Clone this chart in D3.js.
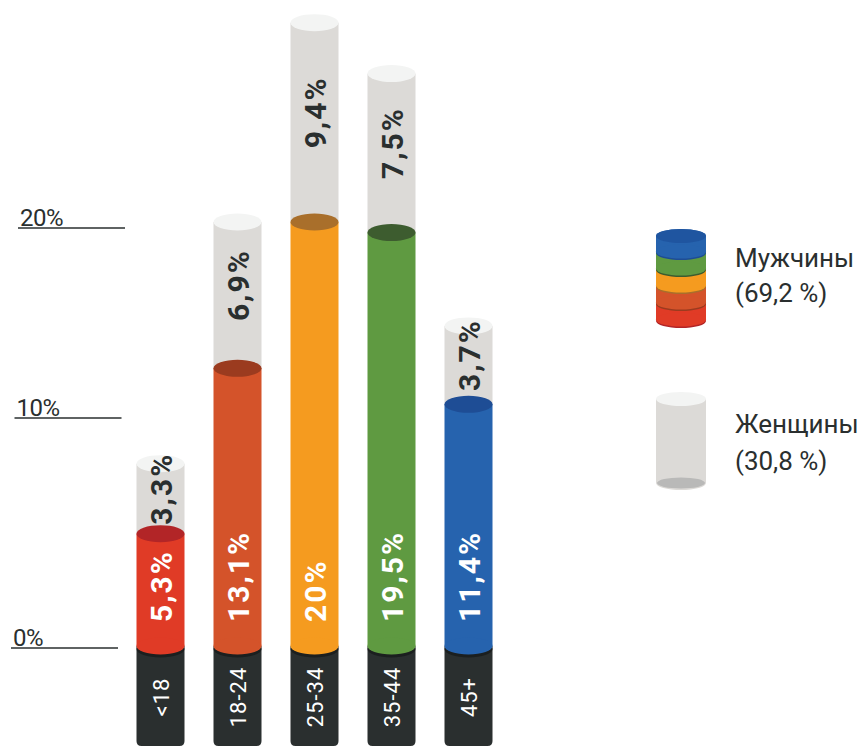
<!DOCTYPE html>
<html><head><meta charset="utf-8">
<script src="https://cdn.jsdelivr.net/npm/d3@7"></script>
<style>
html,body{margin:0;padding:0;background:#fff;}
svg{display:block;font-family:Roboto,"Noto Sans",sans-serif;}
</style></head>
<body>
<svg id="c" width="864" height="747"></svg>
<script>
const categories = ["<18","18-24","25-34","35-44","45+"];
const menValues = [5.3, 13.1, 20, 19.5, 11.4];
const womenValues = [3.3, 6.9, 9.4, 7.5, 3.7];
const tickValues = [0, 10, 20];
const tickLabels = ["0%","10%","20%"];
const menColors = ["#e03b26","#d4532a","#f59b1f","#5f9a41","#2663ae"];
const menTopColors = ["#b22527","#9b3b1f","#a96f2b","#3d5c2f","#1e4d95"];
const legendLabels = [["Мужчины","(69,2 %)"],["Женщины","(30,8 %)"]];

const svg = d3.select("#c");
const y = d3.scaleLinear().domain([0,20]).range([646,222]);
const x = d3.scaleBand().domain(categories).range([122,507]).paddingInner(0.38).paddingOuter(0.19);
const bw = 48, ry = 8.5;
const dark = "#2a2f2f", grayBody = "#dcdad7", grayTop = "#f3f4f3";
const fmt = v => String(v).replace(".", ",") + "%";

// ticks
const tickLeft = d3.scaleLinear().domain([0,20]).range([11,18]);
tickValues.forEach((t,i)=>{
  const yy = y(t) + (t===0?2:(t===10?-16:6));
  svg.append("line").attr("x1",tickLeft(t)).attr("x2",tickLeft(t)+107)
    .attr("y1",yy).attr("y2",yy).attr("stroke",dark).attr("stroke-width",1.6);
  svg.append("text").attr("x",tickLeft(t)+2).attr("y",yy-2.5)
    .attr("font-size",24).attr("letter-spacing",-0.5).attr("fill",dark).text(tickLabels[i]);
});

categories.forEach((c,i)=>{
  const cx = x(c) + x.bandwidth()/2;
  const x0 = cx - bw/2;
  const y0 = y(0), ym = y(menValues[i]), yw = y(menValues[i]+womenValues[i]);
  const g = svg.append("g");
  // dark base
  g.append("path").attr("d", `M${x0},${y0} H${x0+bw} V${741} Q${x0+bw},${746} ${x0+bw-5},${746} H${x0+5} Q${x0},${746} ${x0},${741} Z`).attr("fill",dark);
  // gray (women) body
  g.append("rect").attr("x",x0).attr("y",yw).attr("width",bw).attr("height",ym-yw).attr("fill",grayBody);
  g.append("ellipse").attr("cx",cx).attr("cy",yw).attr("rx",bw/2).attr("ry",ry).attr("fill",grayTop);
  // men shadow on base
  g.append("ellipse").attr("cx",cx).attr("cy",y0+3).attr("rx",bw/2).attr("ry",ry).attr("fill","#1b1f1f");
  // men body
  g.append("rect").attr("x",x0).attr("y",ym).attr("width",bw).attr("height",y0-ym).attr("fill",menColors[i]);
  g.append("ellipse").attr("cx",cx).attr("cy",y0).attr("rx",bw/2).attr("ry",ry).attr("fill",menColors[i]);
  g.append("ellipse").attr("cx",cx).attr("cy",ym).attr("rx",bw/2).attr("ry",ry).attr("fill",menTopColors[i]);
  // labels
  g.append("text").attr("transform",`translate(${cx+11},${y0-24}) rotate(-90)`)
    .attr("font-size",30).attr("font-weight",700).attr("letter-spacing",2)
    .attr("fill","#fff").text(fmt(menValues[i]));
  g.append("text").attr("transform",`translate(${cx+11},${(ym+yw)/2-10}) rotate(-90)`)
    .attr("text-anchor","middle")
    .attr("font-size",30).attr("font-weight",700).attr("letter-spacing",2)
    .attr("fill",dark).text(fmt(womenValues[i]));
  g.append("text").attr("transform",`translate(${cx+8},${697}) rotate(-90)`)
    .attr("text-anchor","middle")
    .attr("font-size",22).attr("letter-spacing",1)
    .attr("fill","#fff").text(c);
});

// legend: men stack
const lx = 656, lw = 50, lcx = lx + lw/2, lry = 7;
const diskH = 17;
const stackBottom = 321;
const order = d3.range(menColors.length); // bottom->top: red..blue
order.forEach(k=>{
  const top = stackBottom - (k+1)*diskH;
  const bot = top + diskH;
  const lg = svg.append("g");
  lg.append("ellipse").attr("cx",lcx).attr("cy",bot).attr("rx",lw/2).attr("ry",lry).attr("fill",menTopColors[k]);
  lg.append("rect").attr("x",lx).attr("y",top).attr("width",lw).attr("height",diskH-1).attr("fill",menColors[k]);
  lg.append("ellipse").attr("cx",lcx).attr("cy",bot-1.5).attr("rx",lw/2).attr("ry",lry).attr("fill",menColors[k]);
  lg.append("ellipse").attr("cx",lcx).attr("cy",top).attr("rx",lw/2).attr("ry",lry).attr("fill",menColors[k]);
});
svg.append("ellipse").attr("cx",lcx).attr("cy",stackBottom-menColors.length*diskH).attr("rx",lw/2).attr("ry",lry).attr("fill","#1f55a0");

// legend: women cylinder
const wTop = 399, wBot = 483;
svg.append("rect").attr("x",lx).attr("y",wTop).attr("width",lw).attr("height",wBot-wTop).attr("fill",grayBody);
svg.append("ellipse").attr("cx",lcx).attr("cy",wBot).attr("rx",lw/2).attr("ry",lry).attr("fill",grayBody);
svg.append("ellipse").attr("cx",lcx).attr("cy",wBot).attr("rx",lw/2-1).attr("ry",lry-1.5).attr("fill","#b9b9b8");
svg.append("ellipse").attr("cx",lcx).attr("cy",wTop).attr("rx",lw/2).attr("ry",lry).attr("fill",grayTop);

const legY = [[267,302],[433,470]];
legendLabels.forEach((lines,i)=>{
  lines.forEach((t,j)=>{
    svg.append("text").attr("x",735).attr("y",legY[i][j]).attr("font-size",26)
      .attr("fill",dark).text(t);
  });
});
</script>
</body></html>
